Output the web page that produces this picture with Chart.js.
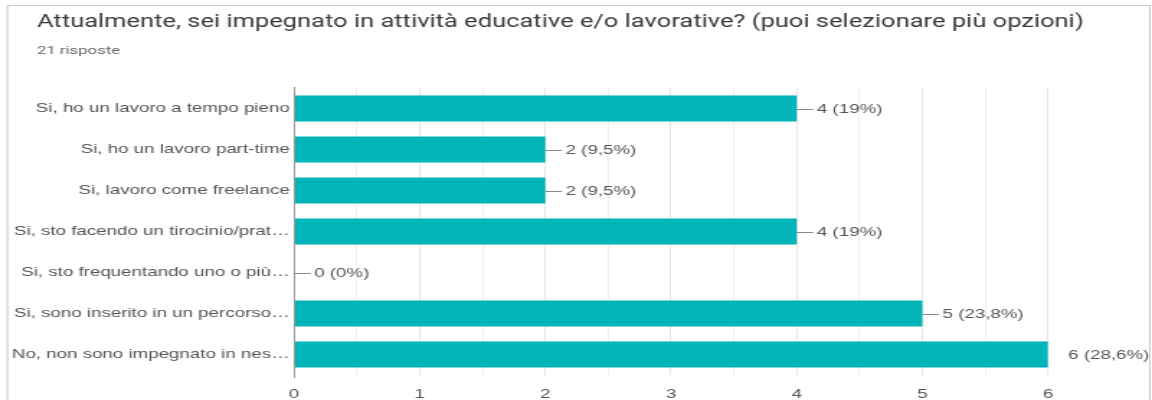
<!DOCTYPE html>
<html>
<head>
<meta charset="utf-8">
<script src="https://cdn.jsdelivr.net/npm/chart.js@4/dist/chart.umd.min.js"></script>
<style>
  html, body { margin: 0; padding: 0; background: #ffffff; overflow: hidden; }
  #wrap { width: 1152px; height: 400px; overflow: hidden; }
  canvas { display: block; }
</style>
</head>
<body>
<div id="wrap"><canvas id="c" width="800" height="400" style="width:1152px;height:400px"></canvas></div>
<script>
// Survey question and answers
const questionTitle = 'Attualmente, sei impegnato in attività educative e/o lavorative? (puoi selezionare più opzioni)';
const totalResponses = 21;
const categories = [
  'Si, ho un lavoro a tempo pieno',
  'Si, ho un lavoro part-time',
  'Si, lavoro come freelance',
  'Si, sto facendo un tirocinio/prat\u2026',
  'Si, sto frequentando uno o più\u2026',
  'Si, sono inserito in un percorso\u2026',
  'No, non sono impegnato in nes\u2026'
];
const counts = [4, 2, 2, 4, 0, 5, 6];
const tickValues = [0, 1, 2, 3, 4, 5, 6];

const BAR_COLOR = '#00b4b8';
const TEXT_COLOR = '#555555';
const LABEL_FONT = '"Liberation Sans", Arial, sans-serif';

function pctLabel(v) {
  const p = Math.round(v / totalResponses * 1000) / 10;
  const s = (p % 1 === 0) ? String(p) : p.toFixed(1).replace('.', ',');
  return v + ' (' + s + '%)';
}

// Card frame, heading and response count
const headerPlugin = {
  id: 'header',
  beforeDraw(chart) {
    const ctx = chart.ctx;
    ctx.save();
    ctx.fillStyle = '#ffffff';
    ctx.fillRect(0, 0, chart.width, chart.height);
    ctx.strokeStyle = '#c8c8c8';
    ctx.lineWidth = 1;
    ctx.strokeRect(5.2, 5.5, 793.3, 600);
    ctx.fillStyle = '#3a3a3a';
    ctx.textBaseline = 'alphabetic';
    ctx.textAlign = 'left';
    ctx.font = '17.7px Roboto, sans-serif';
    ctx.fillText(questionTitle, 25.7, 27);
    ctx.fillStyle = '#666666';
    ctx.font = '11.6px Roboto, sans-serif';
    ctx.fillText(totalResponses + ' risposte', 25.7, 54);
    ctx.restore();
  }
};

// Baseline at zero and value labels with leader lines
const valueLabelPlugin = {
  id: 'valueLabels',
  afterDatasetsDraw(chart) {
    const ctx = chart.ctx;
    const xs = chart.scales.x;
    const area = chart.chartArea;
    ctx.save();
    const x0 = Math.round(xs.getPixelForValue(0)) + 0.5;
    ctx.strokeStyle = '#9a9a9a';
    ctx.lineWidth = 1;
    ctx.beginPath();
    ctx.moveTo(x0, area.top - 1);
    ctx.lineTo(x0, area.bottom + 3);
    ctx.stroke();

    const meta = chart.getDatasetMeta(0);
    ctx.font = '13px ' + LABEL_FONT;
    ctx.textBaseline = 'middle';
    ctx.textAlign = 'left';
    meta.data.forEach((bar, i) => {
      const v = counts[i];
      const x = bar.x;
      const y = bar.y;
      if (v < xs.max) {
        ctx.strokeStyle = '#8a8a8a';
        ctx.beginPath();
        ctx.moveTo(x, Math.round(y) + 0.5);
        ctx.lineTo(x + 11.5, Math.round(y) + 0.5);
        ctx.stroke();
      }
      ctx.fillStyle = TEXT_COLOR;
      ctx.fillText(pctLabel(v), x + 14, y + 0.5);
    });
    ctx.restore();
  }
};

const chart = new Chart(document.getElementById('c'), {
  type: 'bar',
  data: {
    labels: categories,
    datasets: [{
      data: counts,
      backgroundColor: BAR_COLOR,
      borderWidth: 0,
      barPercentage: 0.63,
      categoryPercentage: 1
    }]
  },
  options: {
    indexAxis: 'y',
    responsive: false,
    devicePixelRatio: 1,
    animation: false,
    layout: { padding: { top: 88, right: 72.2, left: 0, bottom: 0 } },
    plugins: {
      legend: { display: false },
      tooltip: { enabled: false },
      title: { display: false }
    },
    scales: {
      x: {
        min: 0,
        max: 6,
        afterFit(scale) { scale.height = 25; },
        afterBuildTicks(scale) {
          const t = [];
          for (let v = 0; v <= 6; v += 0.5) t.push({ value: v });
          scale.ticks = t;
        },
        border: { display: false },
        grid: {
          drawTicks: false,
          color: (c) => (c.tick && c.tick.value % 1 === 0) ? '#e6e6e6' : '#f0f0f0',
          lineWidth: 1
        },
        ticks: {
          padding: 12,
          autoSkip: false,
          maxRotation: 0,
          color: '#555555',
          font: { family: LABEL_FONT, size: 13 },
          callback: (v) => tickValues.includes(v) ? String(v) : ''
        }
      },
      y: {
        afterFit(scale) { scale.width = 204.2; },
        border: { display: false },
        grid: { display: false, drawTicks: false },
        ticks: {
          padding: 3,
          autoSkip: false,
          color: TEXT_COLOR,
          font: { family: LABEL_FONT, size: 13 }
        }
      }
    }
  },
  plugins: [headerPlugin, valueLabelPlugin]
});
chart.canvas.style.width = '1152px';
chart.canvas.style.height = '400px';
</script>
</body>
</html>
